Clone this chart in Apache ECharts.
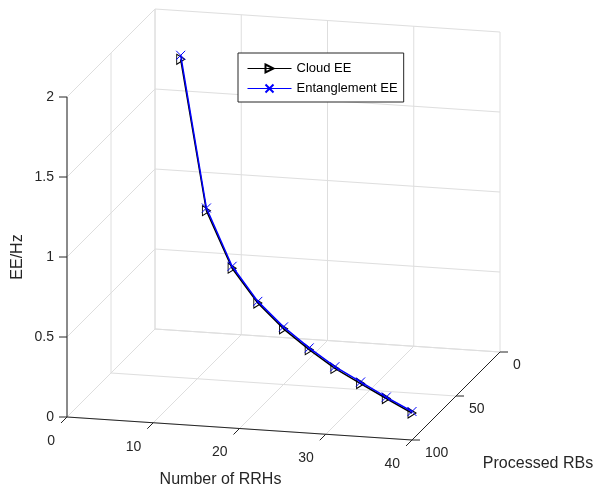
<!DOCTYPE html>
<html>
<head>
<meta charset="utf-8">
<script src="https://cdn.jsdelivr.net/npm/echarts@6/dist/echarts.min.js"></script>
<style>
  html, body { margin: 0; padding: 0; background: #fff; }
  #chart { width: 593px; height: 494px; }
</style>
</head>
<body>
<div id="chart"></div>
<script>
  // values
  var rrhNum = [4, 8, 12, 16, 20, 24, 28, 32, 36, 40]
  var rbNum = [10, 20, 30, 40, 50, 60, 70, 80, 90, 100]
  var cloudEE = [1.755, 0.878, 0.588, 0.44, 0.348, 0.287, 0.239, 0.214, 0.19, 0.168]
  var entEE = [1.78, 0.895, 0.6, 0.45, 0.36, 0.298, 0.25, 0.224, 0.199, 0.178]
  var xTicks = [0, 10, 20, 30, 40]
  var yTicks = [0, 50, 100]
  var zTicks = [0, 0.5, 1, 1.5, 2]
  var xTickLabels = ['0', '10', '20', '30', '40']
  var yTickLabels = ['0', '50', '100']
  var zTickLabels = ['0', '0.5', '1', '1.5', '2']

  var FONT = '"Liberation Sans", Arial, Helvetica, sans-serif'
  var GRID = '#dedede'
  var AXIS = '#262626'

  // 3D view: screen position of (0,0,0) and one-unit steps along x, y, z
  var origin = [155, 329]
  var ex = [8.625, 0.575]
  var ey = [-0.88, 0.88]
  var ez = [0, -160]
  var xMax = 40
  var yMax = 100
  var zMax = 2

  function project(x, y, z) {
    return [
      origin[0] + x * ex[0] + y * ey[0] + z * ez[0],
      origin[1] + x * ex[1] + y * ey[1] + z * ez[1]
    ]
  }

  function renderBox(params, api) {
    var children = []
    function seg(a, b, color) {
      var p1 = api.coord(a)
      var p2 = api.coord(b)
      children.push({
        type: 'line',
        shape: { x1: p1[0], y1: p1[1], x2: p2[0], y2: p2[1] },
        style: { stroke: color, lineWidth: 1 }
      })
    }
    function text(pt, str, align, vAlign, size, rotation) {
      var p = api.coord(pt)
      children.push({
        type: 'text',
        x: p[0],
        y: p[1],
        rotation: rotation || 0,
        style: {
          text: str,
          align: align,
          verticalAlign: vAlign,
          fill: AXIS,
          font: size + 'px ' + FONT
        }
      })
    }
    function shift(p, dx, dy) {
      return [p[0] + dx, p[1] + dy]
    }

    // back wall (y = 0)
    xTicks.forEach(function (x) { seg(project(x, 0, 0), project(x, 0, zMax), GRID) })
    zTicks.forEach(function (z) { seg(project(0, 0, z), project(xMax, 0, z), GRID) })
    // left wall (x = 0)
    yTicks.forEach(function (y) { seg(project(0, y, 0), project(0, y, zMax), GRID) })
    zTicks.forEach(function (z) { seg(project(0, 0, z), project(0, yMax, z), GRID) })
    // floor (z = 0)
    xTicks.forEach(function (x) { seg(project(x, 0, 0), project(x, yMax, 0), GRID) })
    yTicks.forEach(function (y) { seg(project(0, y, 0), project(xMax, y, 0), GRID) })

    // axis lines
    seg(project(0, yMax, 0), project(xMax, yMax, 0), AXIS)
    seg(project(xMax, yMax, 0), project(xMax, 0, 0), AXIS)
    seg(project(0, yMax, 0), project(0, yMax, zMax), AXIS)

    // ticks + labels
    xTicks.forEach(function (x, i) {
      var p = project(x, yMax, 0)
      seg(p, shift(p, -6, 6), AXIS)
      text(shift(p, -12, 24), xTickLabels[i], 'right', 'middle', 14)
    })
    yTicks.forEach(function (y, i) {
      var p = project(xMax, y, 0)
      seg(p, shift(p, 8, 0), AXIS)
      text(shift(p, 13, 13), yTickLabels[i], 'left', 'middle', 14)
    })
    zTicks.forEach(function (z, i) {
      var p = project(0, yMax, z)
      seg(p, shift(p, -8, 0), AXIS)
      text(shift(p, -13, 0), zTickLabels[i], 'right', 'middle', 14)
    })

    // axis titles
    text(shift(project(xMax / 2, yMax, 0), -19, 51), 'Number of RRHs', 'center', 'middle', 16)
    text(shift(project(xMax, yMax / 2, 0), 82, 68), 'Processed RBs', 'center', 'middle', 16)
    text(shift(project(0, yMax, zMax / 2), -49, 0), 'EE/Hz', 'center', 'middle', 16, Math.PI / 2)

    return { type: 'group', children: children }
  }

  function toScreen(zs) {
    return rrhNum.map(function (x, i) { return project(x, rbNum[i], zs[i]) })
  }

  var chart = echarts.init(document.getElementById('chart'), null, { renderer: 'canvas' })
  chart.setOption({
    animation: false,
    backgroundColor: '#fff',
    grid: { left: 0, right: 0, top: 0, bottom: 0 },
    xAxis: { type: 'value', min: 0, max: 593, show: false },
    yAxis: { type: 'value', min: 0, max: 494, inverse: true, show: false },
    legend: {
      data: ['Cloud EE', 'Entanglement EE'],
      orient: 'vertical',
      left: 238,
      top: 53,
      itemWidth: 44,
      itemHeight: 10,
      itemGap: 7,
      padding: [9, 6, 7, 9],
      backgroundColor: '#fff',
      borderColor: AXIS,
      borderWidth: 1,
      borderRadius: 0,
      selectedMode: false,
      lineStyle: { width: 1 },
      textStyle: { fontFamily: FONT, fontSize: 13, color: '#000' }
    },
    series: [
      {
        type: 'custom',
        z: 1,
        silent: true,
        renderItem: renderBox,
        data: [0]
      },
      {
        name: 'Cloud EE',
        type: 'line',
        z: 2,
        data: toScreen(cloudEE),
        symbol: 'path://M0,0L10,5L0,10Z',
        symbolSize: [8, 10],
        lineStyle: { color: '#000', width: 1.5 },
        itemStyle: { color: 'rgba(0,0,0,0)', borderColor: '#000', borderWidth: 1 }
      },
      {
        name: 'Entanglement EE',
        type: 'line',
        z: 3,
        data: toScreen(entEE),
        symbol: 'path://M0,0L10,10M0,10L10,0',
        symbolSize: 9,
        lineStyle: { color: '#0000ff', width: 1.5 },
        itemStyle: { color: 'rgba(0,0,0,0)', borderColor: '#0000ff', borderWidth: 1 }
      }
    ]
  })
</script>
</body>
</html>
